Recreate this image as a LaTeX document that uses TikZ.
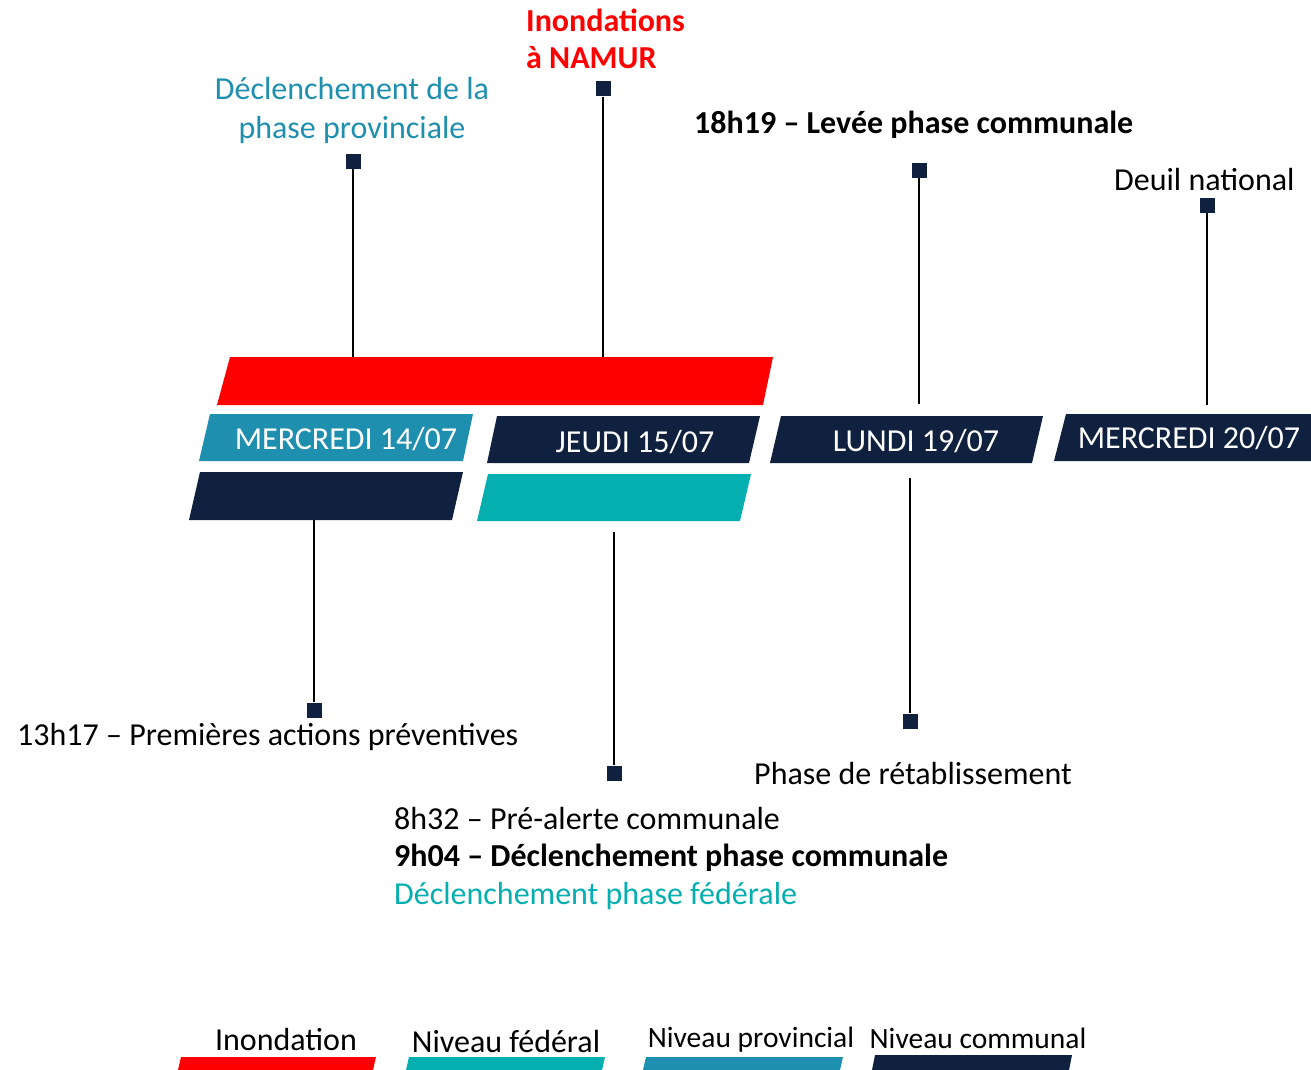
\documentclass[tikz,border=0pt]{standalone}
\usepackage{fontspec}
\setmainfont{Carlito}
\usetikzlibrary{positioning}
\definecolor{flood}{HTML}{FF0000}
\definecolor{navy}{HTML}{10213F}
\definecolor{prov}{HTML}{1F8FAF}
\definecolor{fed}{HTML}{05AFAF}
\tikzset{
  lbl/.style={inner sep=0pt,font=\fontsize{32}{39}\selectfont,text=black},
  boldlbl/.style={lbl,font=\fontsize{32}{37}\selectfont\bfseries},
  day/.style={lbl,text=white},
  keylbl/.style={lbl,font=\fontsize{32}{36}\selectfont},
  smallkey/.style={lbl,font=\fontsize{29.5}{34}\selectfont},
  pin/.style={fill=navy,inner sep=0pt,minimum size=15pt},
  stem/.style={draw=black,line width=1.1pt}
}

\begin{document}
\begin{tikzpicture}[x=1pt,y=-1pt]
  \useasboundingbox (0,0) rectangle (1311,1070);

  % bandeau inondation
  \fill[flood] (230,357) -- (773,357) -- (763,405) -- (217,405) -- cycle;
  % jours
  \fill[prov] (210,414) -- (473,414) -- (463,461) -- (199,461) -- cycle;
  \fill[navy] (497,416) -- (760,416) -- (749,463) -- (487,463) -- cycle;
  \fill[navy] (781,416) -- (1043,416) -- (1032,463) -- (770,463) -- cycle;
  \fill[navy] (1066,414) -- (1311,414) -- (1311,461) -- (1054,461) -- cycle;
  % niveaux
  \fill[navy] (200,472) -- (463,472) -- (452,520) -- (189,520) -- cycle;
  \fill[fed] (488,474) -- (751,474) -- (740,521) -- (477,521) -- cycle;

  \node[day] (d14) at (346,439) {MERCREDI 14/07};
  \node[day] (d15) at (635,442) {JEUDI 15/07};
  \node[day] (d19) at (916,441) {LUNDI 19/07};
  \node[day] (d20) at (1189,438) {MERCREDI 20/07};

  % jalons au-dessus
  \node[pin] (pprov) at (353,161) {};
  \node[pin] (pnamur) at (603,89) {};
  \node[pin] (plevee) at (919,170) {};
  \node[pin] (pdeuil) at (1207,205) {};
  \coordinate (cprov) at (353,357);
  \coordinate (cnamur) at (603,357);
  \coordinate (clevee) at (919,404);
  \coordinate (cdeuil) at (1207,405);
  \draw[stem] (pprov) -- (cprov);
  \draw[stem] (pnamur) -- (cnamur);
  \draw[stem] (plevee) -- (clevee);
  \draw[stem] (pdeuil) -- (cdeuil);

  % jalons en dessous
  \coordinate (cactions) at (314,520);
  \coordinate (calerte) at (614,532);
  \coordinate (cretab) at (910,478);
  \node[pin] (pactions) at (314,710) {};
  \node[pin] (palerte) at (614,773) {};
  \node[pin] (pretab) at (910,721) {};
  \draw[stem] (cactions) -- (pactions);
  \draw[stem] (calerte) -- (palerte);
  \draw[stem] (cretab) -- (pretab);

  % textes
  \node[lbl,text=prov,align=center] (tprov) at (352,110) {Déclenchement de la\\phase provinciale};
  \node[boldlbl,text=flood,align=left,anchor=west] (tnamur) at (526,39) {Inondations\\à NAMUR};
  \node[boldlbl,anchor=west] (tlevee) at (694,125) {18h19 – Levée phase communale};
  \node[lbl,anchor=west] (tdeuil) at (1114,180) {Deuil national};
  \node[lbl,anchor=west] (tactions) at (17,737) {13h17 – Premières actions préventives};
  \node[lbl,anchor=west] (tretab) at (754,773) {Phase de rétablissement};
  \node[lbl,anchor=west] (talerte) at (394,818) {8h32 – Pré-alerte communale};
  \node[boldlbl,anchor=west] (tcommune) at (394,858) {9h04 – Déclenchement phase communale};
  \node[lbl,anchor=west,text=fed] (tfed) at (394,896) {Déclenchement phase fédérale};

  % legende
  \fill[flood] (181,1057) -- (376,1057) -- (373,1070) -- (178,1070) -- cycle;
  \fill[fed] (409,1057) -- (605,1057) -- (602,1070) -- (406,1070) -- cycle;
  \fill[prov] (646,1057) -- (843,1057) -- (840,1070) -- (643,1070) -- cycle;
  \fill[navy] (875,1055) -- (1072,1055) -- (1069,1070) -- (872,1070) -- cycle;
  \node[keylbl] (kflood) at (286,1039) {Inondation};
  \node[keylbl] (kfed) at (506,1041) {Niveau fédéral};
  \node[smallkey] (kprov) at (751,1040) {Niveau provincial};
  \node[smallkey] (kcomm) at (978,1038) {Niveau communal};
\end{tikzpicture}
\end{document}
